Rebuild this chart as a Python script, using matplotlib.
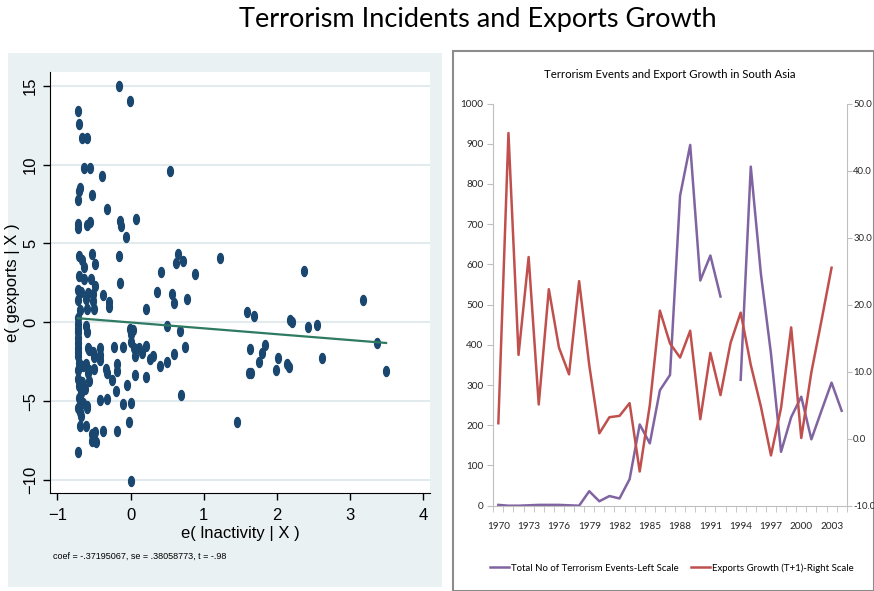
import numpy as np
import matplotlib.pyplot as plt
from matplotlib.patches import Rectangle
from matplotlib.lines import Line2D

# Added-variable plot residuals: e(lnactivity|X), e(gexports|X)
ex = [-0.16, -0.01, -0.72, -0.71, -0.665, -0.59, -0.63, -0.56, 0.54, -0.39, -0.69, -0.70, -0.72,
      -0.53, -0.32, -0.715, -0.715, -0.60, -0.55, -0.14, -0.13, -0.06, 0.08,
      -0.71, -0.66, -0.53, -0.16, -0.63, -0.49, 0.65, 0.62, 0.71, -0.71, -0.63, -0.54, 0.41, 0.88,
      -0.48, -0.14, -0.72, -0.67, -0.58, -0.515, -0.38, -0.715, -0.61, -0.515, -0.30, -0.29, -0.69,
      -0.60, -0.505, 0.355, 0.565, 0.59, 0.77, 0.21, 1.22, 2.37, 3.17,
      -0.72, -0.72, -0.615, -0.60, -0.005, 0.03, 0.005, 0.50, 0.68,
      1.59, 1.68, 2.18, 2.20, 2.43, 2.55, 1.63, 1.84, 1.80, 1.76, 1.62, 1.65, 2.02, 1.98, 2.135,
      2.17, 2.61, 3.37, 3.49, 1.46,
      -0.72, -0.715, -0.715, -0.58, -0.515, -0.42, -0.415, -0.415, -0.23, -0.10, 0.01, 0.06, 0.11,
      0.16, 0.21, 0.26, 0.31, 0.40, 0.50, 0.59, 0.74, 0.05,
      -0.71, -0.65, -0.61, -0.58, -0.505, -0.34, -0.32, -0.25, -0.19, -0.19, 0.055, 0.21, -0.05,
      -0.205, -0.72, -0.71, -0.67, -0.72, -0.65, -0.60, -0.42, -0.32, -0.10, 0.01, 0.69,
      -0.69, -0.61, -0.52, -0.49, -0.47, -0.52, -0.37, -0.19, -0.02, -0.72, 0.0,
      -0.72, -0.72, -0.70, -0.69, -0.66, -0.62, -0.72, -0.72, -0.72, -0.57, -0.50, -0.57, -0.59,
      -0.68, -0.57]
ey = [14.96, 14.01, 13.42, 12.54, 11.69, 11.69, 9.80, 9.80, 9.61, 9.25, 8.54, 8.31, 7.74,
      8.07, 7.17, 6.26, 5.95, 6.16, 6.37, 6.41, 6.12, 5.42, 6.52,
      4.19, 3.98, 4.36, 4.19, 3.52, 3.69, 4.36, 3.77, 3.90, 2.94, 2.73, 2.75, 3.21, 3.06,
      2.31, 2.47, 2.05, 1.95, 1.89, 1.80, 1.74, 1.43, 1.47, 1.38, 1.32, 1.01, 0.80,
      0.84, 0.84, 1.93, 1.80, 1.22, 1.47, 0.88, 4.10, 3.25, 1.43,
      -0.08, -0.42, -0.25, -0.63, -0.42, -0.46, -0.71, -0.21, -0.57,
      0.65, 0.42, 0.17, 0.06, -0.29, -0.19, -1.68, -1.41, -1.94, -2.51, -3.20, -3.20, -2.27, -2.99, -2.61,
      -2.84, -2.25, -1.31, -3.09, -6.29,
      -0.99, -1.30, -1.61, -1.61, -1.89, -1.61, -2.03, -2.39, -1.57, -1.55, -1.26, -2.14, -1.61,
      -1.93, -1.47, -2.31, -2.14, -2.73, -2.52, -1.97, -1.55, -1.63,
      -2.56, -2.77, -2.60, -3.19, -2.94, -2.94, -3.23, -3.65, -2.60, -3.08, -3.35, -3.44, -3.98,
      -4.34, -3.61, -4.03, -4.44, -5.39, -5.07, -5.28, -4.91, -4.86, -5.18, -5.07, -4.59,
      -6.54, -6.54, -7.06, -6.92, -7.59, -7.49, -6.86, -6.86, -6.29, -8.18, -10.02,
      -2.14, -3.02, -4.76, -5.70, -3.80, -4.20, -1.90, 0.30, -0.60, -3.00, -2.20, -1.76, -5.40,
      -5.90, -3.73]
fit_coef = -0.37195067
fit_se = 0.38058773
fit_t = -0.98

# South Asia series
years = list(range(1970, 2005))
events = [2, 0, 0, 1, 2, 2, 2, 1, 0, 36, 11, 24, 18, 66, 202, 155, 287, 325, 771, 897,
          560, 622, 520, np.nan, 313, 843, 577, 378, 134, 220, 271, 165, 236, 306, 236]
growth = [2.3, 45.6, 12.5, 27.1, 5.1, 22.3, 13.6, 9.6, 23.5, 11.0, 0.8, 3.2, 3.4, 5.3, -4.9,
          5.0, 19.1, 14.2, 12.1, 16.1, 2.9, 12.8, 6.5, 14.3, 18.8, 11.0, 4.8, -2.5, 4.6, 16.6,
          0.1, 9.9, 17.6, 25.5, np.nan]

excel_font = 'Lato'
stata_font = 'Liberation Sans'

W, H = 874, 591
fig = plt.figure(figsize=(W / 100, H / 100), dpi=100)


def fx(px):
    return px / W


def fy(py):
    return 1 - py / H


fig.text(fx(478), fy(20), 'Terrorism Incidents and Exports Growth', ha='center', va='center',
         fontsize=19.5, family='Lato')

# ---- left panel (Stata avplot) ----
fig.patches.append(Rectangle((fx(8), fy(587)), fx(434), 534 / H, transform=fig.transFigure,
                             facecolor='#EAF1F3', edgecolor='none', zorder=-10))
ax1 = fig.add_axes([fx(50), fy(493), fx(380), 421 / H])
ax1.set_facecolor('white')
t = np.linspace(0, 2 * np.pi, 40)
ellipse = list(zip(0.58 * np.cos(t), np.sin(t)))
ax1.plot(ex, ey, ls='none', marker=ellipse, ms=7.2, color='#1A476F', mec='#1A476F', zorder=3)
xs = np.array([min(ex), max(ex)])
ax1.plot(xs, fit_coef * xs, color='#2E7A63', lw=1.6, zorder=4)
ax1.set_xlim(-1.1, 4.09)
ax1.set_ylim(-10.8, 15.86)
ax1.set_xticks([-1, 0, 1, 2, 3, 4])
ax1.set_yticks([-10, -5, 0, 5, 10, 15])
ax1.grid(axis='y', color='#E2EAED', lw=1.5, zorder=0)
ax1.set_axisbelow(True)
for s in ['top', 'right']:
    ax1.spines[s].set_visible(False)
for s in ['left', 'bottom']:
    ax1.spines[s].set_color('black')
ax1.tick_params(length=5, width=1, labelsize=12, colors='black')
ax1.tick_params(axis='x', pad=6)
for lab in ax1.get_xticklabels() + ax1.get_yticklabels():
    lab.set_family(stata_font)
plt.setp(ax1.get_yticklabels(), rotation=90, va='center')
ax1.set_xlabel('e( lnactivity | X )', fontsize=12, family=stata_font, labelpad=2)
ax1.set_ylabel('e( gexports | X )', fontsize=12, family=stata_font)
ax1.yaxis.set_label_coords(-0.078, 0.5)
note = f'coef = {fit_coef:.8f}, se = {fit_se:.8f}, t = {fit_t:.2f}'
note = note.replace('-0.', '-.').replace(' 0.', ' .')
fig.text(fx(53), fy(556), note, family=stata_font, fontsize=6.5, va='center')

# ---- right panel (Excel line chart) ----
fig.patches.append(Rectangle((fx(453), 0), fx(421), fy(51), transform=fig.transFigure,
                             facecolor='white', edgecolor='#8C8C8C', lw=1.5, zorder=-10))
fig.text(fx(670), fy(75), 'Terrorism Events and Export Growth in South Asia', ha='center',
         va='center', family=excel_font, fontsize=8.2)
ax2 = fig.add_axes([fx(493.3), fy(505.7), fx(353.4), 402.2 / H])
idx = np.arange(len(years))
purple, red = '#8064A2', '#C0504D'
ax2.plot(idx, events, color=purple, lw=1.8)
ax2.set_xlim(-0.5, len(years) - 0.5)
ax2.set_ylim(0, 1000)
ax2.set_yticks(range(0, 1001, 100))
ax2.set_xticks(idx[::3])
ax2.set_xticklabels([str(y) for y in years[::3]])
ax2.set_xticks(np.arange(-0.5, len(years), 1), minor=True)
ax2.tick_params(axis='x', which='major', length=0, pad=12)
ax2.tick_params(axis='x', which='minor', length=4, color='#BFBFBF')
ax2.tick_params(axis='y', length=4, color='#BFBFBF', pad=3)
ax3 = ax2.twinx()
ax3.plot(idx, growth, color=red, lw=1.8)
ax3.set_ylim(-10, 50)
ax3.set_yticks(range(-10, 51, 10))
ax3.set_yticklabels([f'{v:.1f}' for v in range(-10, 51, 10)])
ax3.tick_params(axis='y', length=3.5, color='#BFBFBF', pad=1.2)
for a in (ax2, ax3):
    for s in a.spines.values():
        s.set_visible(False)
    for lab in a.get_xticklabels() + a.get_yticklabels():
        lab.set_family(excel_font)
        lab.set_fontsize(7.2)
        lab.set_color('#262626')
for lab in ax3.get_yticklabels():
    lab.set_fontsize(6.8)
ax2.spines['left'].set_visible(True)
ax2.spines['bottom'].set_visible(True)
ax3.spines['right'].set_visible(True)
for s in (ax2.spines['left'], ax2.spines['bottom'], ax3.spines['right']):
    s.set_color('#BFBFBF')

leg_labels = ['Total No of Terrorism Events-Left Scale', 'Exports Growth (T+1)-Right Scale']
handles = [Line2D([], [], color=purple, lw=1.8), Line2D([], [], color=red, lw=1.8)]
fig.legend(handles, leg_labels, loc='center', bbox_to_anchor=(fx(672), fy(568)), ncol=2,
           frameon=False, prop={'family': excel_font, 'size': 6.9}, handlelength=2.0,
           handletextpad=0.2, columnspacing=1.3)

fig.savefig('out.png', dpi=100)
